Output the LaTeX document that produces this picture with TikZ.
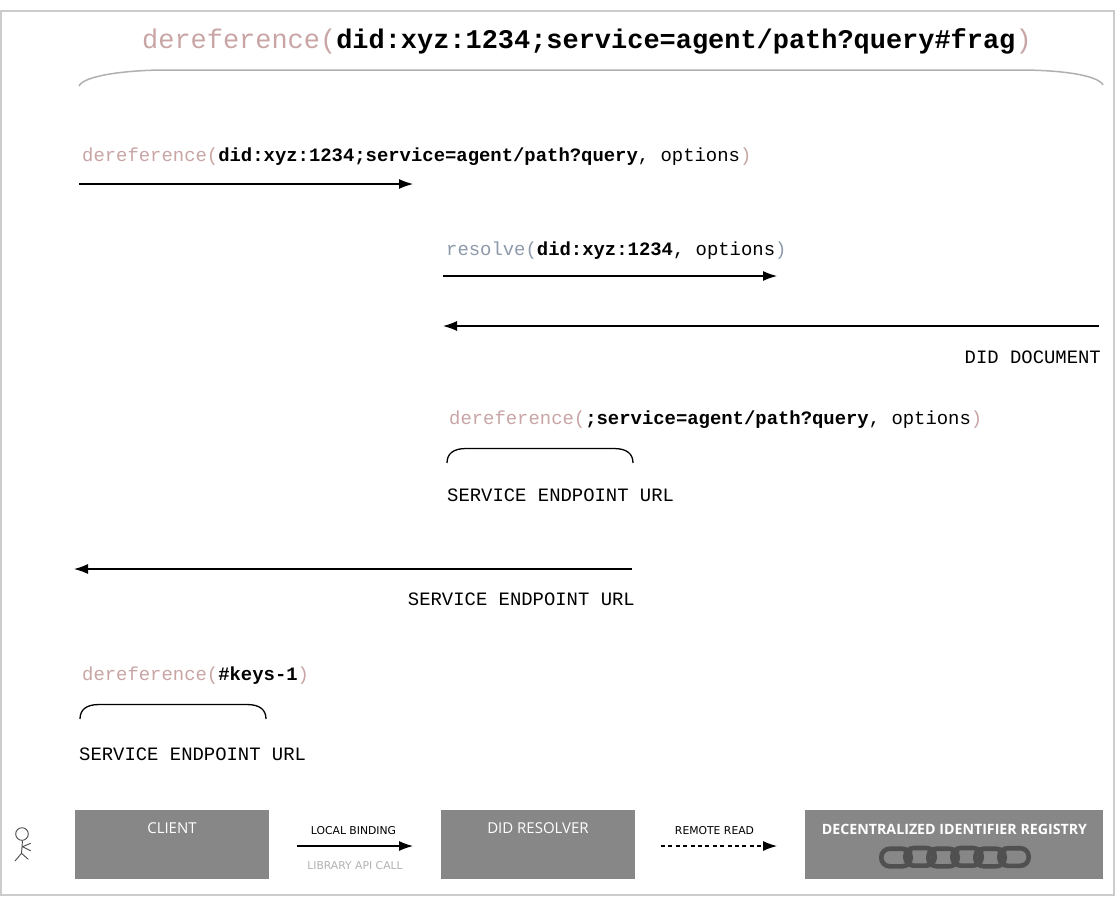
\documentclass[tikz,border=0pt]{standalone}
\usepackage{fontspec}
\setmonofont{Liberation Mono}
\setsansfont{Open Sans}
\newfontfamily\smallsans{DejaVu Sans}
\usetikzlibrary{arrows.meta}
\definecolor{rosec}{HTML}{C9A5A5}
\definecolor{bluec}{HTML}{8E9AAC}
\definecolor{boxc}{HTML}{878787}
\definecolor{framec}{HTML}{CCCCCC}
\definecolor{chainc}{HTML}{505050}
\definecolor{bracec}{HTML}{B0B0B0}
\newcommand{\der}{\textcolor{rosec}{dereference(}}
\newcommand{\dercl}{\textcolor{rosec}{)}}
\newcommand{\res}{\textcolor{bluec}{resolve(}}
\newcommand{\rescl}{\textcolor{bluec}{)}}
\tikzset{
  x=1pt,y=-1pt,
  code/.style={font=\ttfamily\fontsize{18.9}{20}\selectfont,anchor=base west,inner sep=0pt,text=black},
  codeb/.style={code,anchor=base east},
  title/.style={code,font=\ttfamily\fontsize{26.95}{28}\selectfont},
  msg/.style={draw=black,line width=1.15pt,-{Latex[length=14pt,width=10pt]}},
  bracel/.style={draw=black,line width=1.3pt},
  block/.style={draw=none,fill=boxc,inner sep=0pt,anchor=north west},
  boxtext/.style={font=\sffamily\fontsize{15}{16}\selectfont,text=white,anchor=base,inner sep=0pt},
  small/.style={font=\smallsans\fontsize{10.8}{12}\selectfont,anchor=base,inner sep=0pt},
  stick/.style={draw=black!70,line width=0.9pt},
  chainlink/.style={draw=chainc,line width=4.6pt,rounded corners=8.4pt},
}
\begin{document}
\begin{tikzpicture}
\useasboundingbox (0,0) rectangle (1115,906);
\fill[white] (0,0) rectangle (1115,906);
\draw[framec,line width=2pt] (1,11) rectangle (1114,895);

% title
\node[title] (t) at (142,48) {\der\textbf{did:xyz:1234;service=agent/path?query\#frag}\dercl};
\coordinate (tbl) at (79,86);
\coordinate (tbr) at (1103,85);
\draw[bracec,line width=1.5pt] (tbl) .. controls (84,75) and (130,70) .. (165,70) -- (1020,70) .. controls (1060,70) and (1098,75) .. (tbr);

% step 1
\node[code] (m1) at (82,161) {\der\textbf{did:xyz:1234;service=agent/path?query}, options\dercl};
\coordinate (a1s) at (79,184);
\coordinate (a1e) at (413,184);
\draw[msg] (a1s) -- (a1e);

% step 2
\node[code] (m2) at (446,255) {\res\textbf{did:xyz:1234}, options\rescl};
\coordinate (a2s) at (443,276);
\coordinate (a2e) at (777,276);
\draw[msg] (a2s) -- (a2e);

% step 3
\coordinate (a3s) at (1099,326);
\coordinate (a3e) at (443,326);
\draw[msg] (a3s) -- (a3e);
\node[codeb] (m3) at (1101,363) {DID DOCUMENT};

% step 4
\node[code] (m4) at (449,424) {\der\textbf{;service=agent/path?query}, options\dercl};
\coordinate (b4l) at (447,463);
\coordinate (b4r) at (633,463);
\draw[bracel] (b4l) .. controls (447,454) and (453,448.5) .. (466,448.5) -- (614,448.5) .. controls (627,448.5) and (633,454) .. (b4r);
\node[code] (m5) at (447,501) {SERVICE ENDPOINT URL};

% step 5
\coordinate (a5s) at (632,569);
\coordinate (a5e) at (74,569);
\draw[msg] (a5s) -- (a5e);
\node[codeb] (m6) at (635,605) {SERVICE ENDPOINT URL};

% step 6
\node[code] (m7) at (82,680) {\der\textbf{\#keys-1}\dercl};
\coordinate (b6l) at (80,719);
\coordinate (b6r) at (266,719);
\draw[bracel] (b6l) .. controls (80,710) and (86,704.5) .. (99,704.5) -- (247,704.5) .. controls (260,704.5) and (266,710) .. (b6r);
\node[code] (m8) at (79,760) {SERVICE ENDPOINT URL};

% stick figure
\draw[stick] (22,834) circle (6.3);
\draw[stick] (22.5,840.5) -- (21.5,853.3) -- (15,861) (21.5,853.3) -- (28.3,859.3) (22.5,846.7) -- (30.7,843.3) (22.5,846.7) -- (30.7,850.7);

% legend blocks
\node[block,minimum width=194pt,minimum height=69pt] (client) at (75,810) {};
\node[boxtext] (clientt) at (172,833.5) {CLIENT};
\node[block,minimum width=194pt,minimum height=69pt] (resolver) at (441,810) {};
\node[boxtext] (resolvert) at (538,833.5) {DID RESOLVER};
\node[block,minimum width=298pt,minimum height=69pt] (registry) at (805,810) {};
\node[boxtext,font=\sffamily\bfseries\fontsize{14.2}{15}\selectfont] (registryt) at (954.5,834) {DECENTRALIZED IDENTIFIER REGISTRY};

% chain
\foreach \cx/\cy in {896/857.5,920/856.8,943/857.5,967/856.8,990/857.5,1014/857} {
  \draw[chainlink] (\cx-14.7,\cy-8.8) rectangle (\cx+14.7,\cy+8.8);
}
\foreach \cx in {908,932,955,979,1002} {
  \draw[chainc,line width=1.6pt] (\cx-4,851) -- (\cx,856) -- (\cx+4,851) (\cx,856) -- (\cx,864);
}

% legend arrows
\coordinate (l1s) at (297,846);
\coordinate (l1e) at (413,846);
\draw[msg] (l1s) -- (l1e);
\node[small] (l1t) at (353.5,834) {LOCAL BINDING};
\node[small,text=black!30] (l1b) at (355,869) {LIBRARY API CALL};
\coordinate (l2s) at (661,846);
\coordinate (l2e) at (777,846);
\draw[msg,dash pattern=on 4pt off 3.4pt] (l2s) -- (l2e);
\node[small] (l2t) at (714.5,834) {REMOTE READ};
\end{tikzpicture}
\end{document}
